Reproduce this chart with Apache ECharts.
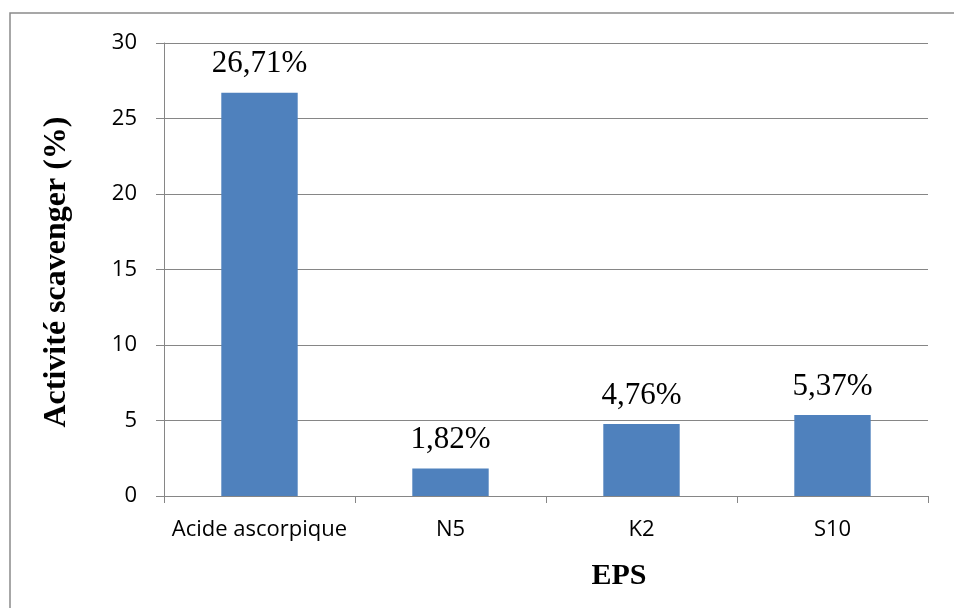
<!DOCTYPE html>
<html>
<head>
<meta charset="utf-8">
<script src="https://cdn.jsdelivr.net/npm/echarts@6/dist/echarts.min.js"></script>
<style>
  html, body { margin: 0; padding: 0; background: #fff; }
  #chart { width: 954px; height: 608px; }
</style>
</head>
<body>
<div id="chart"></div>
<script>
// Scavenger activity of the exopolysaccharides compared with ascorbic acid
const categories = ['Acide ascorpique', 'N5', 'K2', 'S10'];
const activity = [26.71, 1.82, 4.76, 5.37];
const yTicks = { min: 0, max: 30, step: 5 };

const fmtPct = v => v.toFixed(2).replace('.', ',') + '%';

const chart = echarts.init(document.getElementById('chart'));
chart.setOption({
  animation: false,
  backgroundColor: '#fff',
  grid: { left: 164, right: 26, top: 43, bottom: 112 },
  xAxis: {
    type: 'category',
    data: categories,
    axisLine: { lineStyle: { color: '#868686', width: 1 } },
    axisTick: { show: true, length: 7, lineStyle: { color: '#868686' } },
    axisLabel: { interval: 0, color: '#000', fontFamily: 'Open Sans', fontSize: 22, margin: 23 }
  },
  yAxis: {
    type: 'value',
    min: yTicks.min,
    max: yTicks.max,
    interval: yTicks.step,
    axisLine: { show: true, lineStyle: { color: '#868686', width: 1 } },
    axisTick: { show: true, length: 8, lineStyle: { color: '#868686' } },
    splitLine: { lineStyle: { color: '#868686', width: 1 } },
    axisLabel: { color: '#000', fontFamily: 'Open Sans', fontSize: 22, margin: 27 }
  },
  series: [{
    type: 'bar',
    data: activity,
    barWidth: '40%',
    itemStyle: { color: '#4F81BD' },
    label: {
      show: true,
      position: 'top',
      distance: 13,
      color: '#000',
      fontFamily: 'Liberation Serif',
      fontSize: 31,
      formatter: p => fmtPct(p.value)
    }
  }],
  graphic: [
    {
      type: 'rect',
      shape: { x: 10, y: 13, width: 980, height: 640 },
      style: { fill: 'none', stroke: '#8a8a8a', lineWidth: 1.5 },
      silent: true
    },
    {
      type: 'text',
      x: 57, y: 272,
      rotation: Math.PI / 2,
      style: {
        text: 'Activité scavenger (%)',
        font: 'bold 32px "Liberation Serif"',
        fill: '#000',
        textAlign: 'center',
        textVerticalAlign: 'middle'
      }
    },
    {
      type: 'text',
      x: 619, y: 576,
      style: {
        text: 'EPS',
        font: 'bold 30px "Liberation Serif"',
        fill: '#000',
        textAlign: 'center',
        textVerticalAlign: 'middle'
      }
    }
  ]
});
</script>
</body>
</html>
